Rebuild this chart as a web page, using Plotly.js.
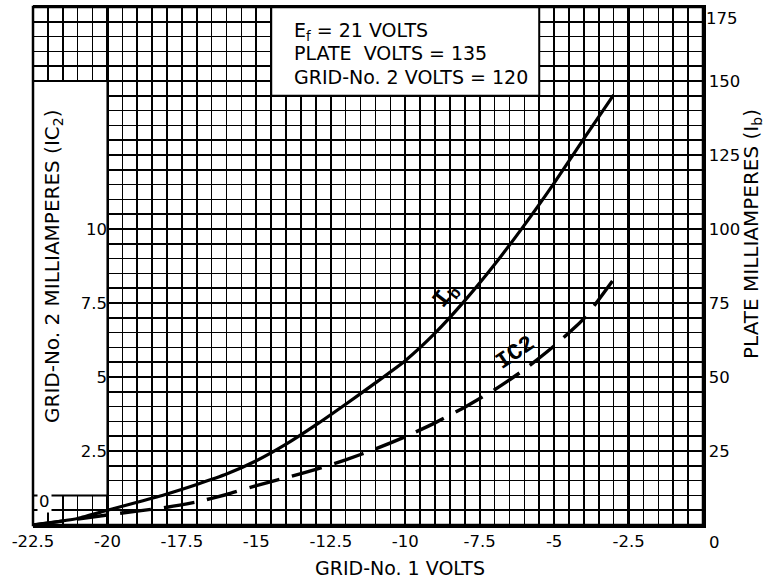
<!DOCTYPE html>
<html>
<head>
<meta charset="utf-8">
<script src="https://cdn.plot.ly/plotly-3.0.1.min.js"></script>
<style>html,body{margin:0;padding:0;background:#fff;}#chart{width:765px;height:581px;}</style>
</head>
<body>
<div id="chart"></div>
<script>
// Grid-No. 1 volts (x axis)
var grid1Volts = [-22.5, -21, -20, -19, -18, -17, -16, -15, -14, -13, -12, -11, -10, -9, -8, -7, -6, -5, -4, -3];
// Plate milliamperes Ib (right axis)
var plateMA = [0, 2.2, 5, 7.7, 10.5, 13.7, 17.2, 21.7, 27.3, 33.8, 40.8, 48, 55.5, 64.8, 75.8, 88, 101.3, 115.5, 130.5, 145.3];
// Grid-No. 2 milliamperes Ic2 (left axis)
var screenMA = [0, 0.2, 0.34, 0.47, 0.6, 0.78, 1.03, 1.33, 1.6, 1.88, 2.2, 2.57, 2.98, 3.45, 3.98, 4.57, 5.25, 6.05, 6.97, 8.3];

var xTickVals = [-22.5, -20, -17.5, -15, -12.5, -10, -7.5, -5, -2.5];
var xTickText = ['-22.5', '-20', '-17.5', '-15', '-12.5', '-10', '-7.5', '-5', '-2.5'];
var leftTickVals = [2.5, 5, 7.5, 10];
var leftTickText = ['2.5', '5', '7.5', '10'];
var rightTickVals = [25, 50, 75, 100, 125, 150];
var rightTickText = ['25', '50', '75', '100', '125', '150'];

var FONT = 'DejaVu Sans, sans-serif';
var plotL = 33, plotR = 703, plotT = 7, plotB = 525;
var W = 765, H = 581;
function px2paperX(p){ return (p - plotL) / (plotR - plotL); }
function px2paperY(p){ return (plotB - p) / (plotB - plotT); }

var traces = [
  {x: grid1Volts, y: plateMA, xaxis: 'x', yaxis: 'y2', type: 'scatter', mode: 'lines',
   line: {color: '#000', width: 3.2, shape: 'spline', smoothing: 0.5}, name: 'Ib', showlegend: false, hoverinfo: 'skip'},
  {x: grid1Volts, y: screenMA, xaxis: 'x', yaxis: 'y', type: 'scatter', mode: 'lines',
   line: {color: '#000', width: 3.4, dash: '31px,13px', shape: 'spline', smoothing: 0.5}, name: 'Ic2', showlegend: false, hoverinfo: 'skip'}
];

var TICKFONT = {family: FONT, size: 16.5, color: '#000'};

var layout = {
  width: W, height: H,
  margin: {l: plotL, r: W - plotR, t: plotT, b: H - plotB},
  paper_bgcolor: '#fff', plot_bgcolor: '#fff',
  font: {family: FONT, size: 16, color: '#000'},
  showlegend: false,
  xaxis: {
    range: [-22.5, 0], tickmode: 'array', tickvals: xTickVals, ticktext: xTickText,
    ticks: '', showline: true, linecolor: '#000', linewidth: 2.5, mirror: true,
    showgrid: true, gridcolor: '#000', gridwidth: 2.2, zeroline: false,
    minor: {tickmode: 'linear', tick0: 0, dtick: 0.5, showgrid: true, gridcolor: '#000', gridwidth: 1.6, ticks: ''},
    tickfont: TICKFONT, fixedrange: true
  },
  yaxis: {
    range: [0, 17.5], anchor: 'free', position: px2paperX(107), side: 'left',
    tickmode: 'array', tickvals: leftTickVals, ticktext: leftTickText,
    ticks: '', showline: false, showgrid: false, zeroline: false,
    tickfont: TICKFONT, fixedrange: true
  },
  yaxis2: {
    range: [0, 175], overlaying: 'y', side: 'right', anchor: 'x',
    tickmode: 'array', tickvals: rightTickVals, ticktext: rightTickText,
    ticks: '', showline: true, linecolor: '#000', linewidth: 2.5,
    showgrid: true, gridcolor: '#000', gridwidth: 2.2, zeroline: false,
    minor: {tickmode: 'linear', tick0: 0, dtick: 5, showgrid: true, gridcolor: '#000', gridwidth: 1.6, ticks: ''},
    tickfont: TICKFONT, fixedrange: true
  },
  shapes: [
    {type: 'rect', xref: 'x', yref: 'y', x0: -22.5, x1: -20, y0: 1.0, y1: 15, fillcolor: '#fff', line: {color: '#000', width: 2}, layer: 'between'},
    {type: 'rect', xref: 'x', yref: 'y', x0: -14.5, x1: -5.5, y0: 14.5, y1: 17.5, fillcolor: '#fff', line: {color: '#000', width: 2}, layer: 'between'},
    {type: 'rect', xref: 'paper', yref: 'paper', x0: 0, x1: 1, y0: 0, y1: 1, line: {color: '#000', width: 2.5}, layer: 'above'}
  ],
  annotations: [
    {xref: 'x', yref: 'y', x: -13.8, y: 16.66, xanchor: 'left', yanchor: 'middle', showarrow: false,
     text: 'E<sub>f</sub> = 21 VOLTS', font: {family: FONT, size: 19, color: '#000'}},
    {xref: 'x', yref: 'y', x: -13.8, y: 15.93, xanchor: 'left', yanchor: 'middle', showarrow: false,
     text: 'PLATE  VOLTS = 135', font: {family: FONT, size: 19, color: '#000'}},
    {xref: 'x', yref: 'y', x: -13.8, y: 15.12, xanchor: 'left', yanchor: 'middle', showarrow: false,
     text: 'GRID-No. 2 VOLTS = 120', font: {family: FONT, size: 19, color: '#000'}},
    {xref: 'paper', yref: 'paper', x: px2paperX(400), y: px2paperY(568), xanchor: 'center', yanchor: 'middle', showarrow: false,
     text: 'GRID-No. 1 VOLTS', font: {family: FONT, size: 19, color: '#000'}},
    {xref: 'paper', yref: 'paper', x: px2paperX(53), y: px2paperY(266), xanchor: 'center', yanchor: 'middle', showarrow: false, textangle: -90,
     text: 'GRID-No. 2 MILLIAMPERES (IC<sub>2</sub>)', font: {family: FONT, size: 20, color: '#000'}},
    {xref: 'paper', yref: 'paper', x: px2paperX(752), y: px2paperY(234), xanchor: 'center', yanchor: 'middle', showarrow: false, textangle: -90,
     text: 'PLATE MILLIAMPERES (I<sub>b</sub>)', font: {family: FONT, size: 20, color: '#000'}},
    {xref: 'paper', yref: 'y2', x: 1, y: 175, xanchor: 'left', yanchor: 'middle', xshift: 1, yshift: -11, showarrow: false,
     text: '175', font: TICKFONT},
    {xref: 'x', yref: 'paper', x: 0, y: px2paperY(542), xanchor: 'center', yanchor: 'middle', xshift: 11, showarrow: false,
     text: '0', font: TICKFONT},
    {xref: 'x', yref: 'y', x: -22.5, y: 0, xanchor: 'left', yanchor: 'bottom', xshift: 4, yshift: 12, showarrow: false, bgcolor: '#fff',
     text: '0', font: TICKFONT},
    {xref: 'x', yref: 'y2', x: -8.62, y: 77.5, xanchor: 'center', yanchor: 'middle', showarrow: false, textangle: -52,
     text: 'I<sub>b</sub>', font: {family: 'Liberation Mono, monospace', size: 24, color: '#000', weight: 'bold'}},
    {xref: 'x', yref: 'y', x: -6.3, y: 5.8, xanchor: 'center', yanchor: 'middle', showarrow: false, textangle: -34,
     text: 'IC2', font: {family: 'Liberation Mono, monospace', size: 23, color: '#000', weight: 'bold'}}
  ]
};

Plotly.newPlot('chart', traces, layout, {staticPlot: true, displayModeBar: false});
</script>
</body>
</html>
